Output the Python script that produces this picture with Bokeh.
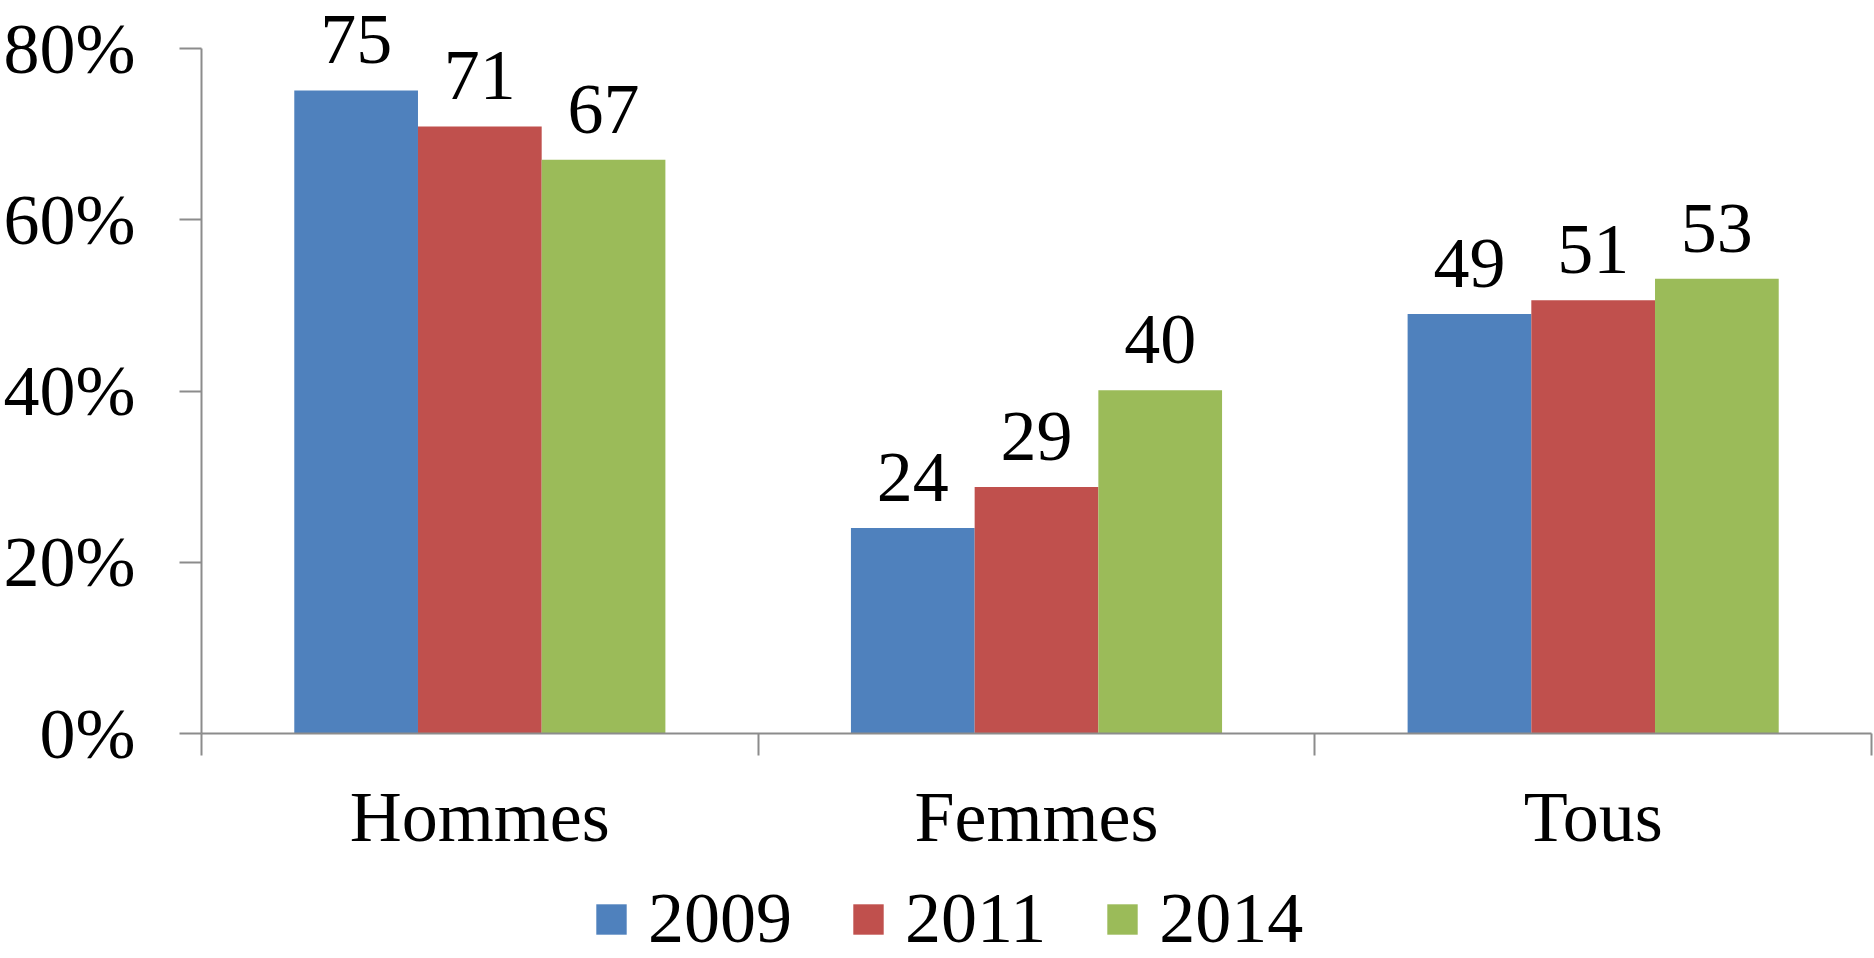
import numpy as np
from bokeh.plotting import figure
from bokeh.layouts import column
from bokeh.models import (Range1d, FixedTicker, PrintfTickFormatter, ColumnDataSource,
                          LabelSet, Legend, LegendItem, LinearAxis)
from bokeh.core.properties import value
from bokeh.embed import file_html
from bokeh.resources import INLINE

# ---- data ----
categories = ["Hommes", "Femmes", "Tous"]
years = ["2009", "2011", "2014"]
v2009 = [75.1, 24.0, 49.0]
v2011 = [70.9, 28.8, 50.6]
v2014 = [67.0, 40.1, 53.1]
y_ticks = [0, 20, 40, 60, 80]
colors = ["#4F81BD", "#C0504D", "#9BBB59"]

FONT = "Liberation Serif"
FS = "72px"
AX = "#8c8c8c"

W, H = 1874, 958
LEG_H = 98
MAIN_H = H - LEG_H
FRAME_BOTTOM = 733      # pixel row of the 0 line
AXIS_TOP_PX = 48        # pixel row of the 80% tick
y_top = y_ticks[-1] * FRAME_BOTTOM / (FRAME_BOTTOM - AXIS_TOP_PX)

p = figure(width=W, height=MAIN_H,
           x_range=Range1d(0, len(categories)), y_range=Range1d(0, y_top),
           output_backend="svg", toolbar_location=None,
           x_axis_location=None, y_axis_location=None,
           min_border_left=200, min_border_right=3,
           min_border_top=0, min_border_bottom=MAIN_H - FRAME_BOTTOM)
p.outline_line_color = None
p.background_fill_color = "white"
p.border_fill_color = "white"
p.grid.visible = False

centers = [i + 0.5 for i in range(len(categories))]
bounds = [float(i) for i in range(len(categories) + 1)]

xaxis = LinearAxis(ticker=FixedTicker(ticks=centers, minor_ticks=bounds))
xaxis.major_label_overrides = {c: name for c, name in zip(centers, categories)}
xaxis.major_tick_out = 22
xaxis.major_tick_in = 0
xaxis.major_tick_line_color = None
xaxis.minor_tick_out = 22
xaxis.minor_tick_in = 0
xaxis.minor_tick_line_color = AX
xaxis.minor_tick_line_width = 2
xaxis.axis_line_color = AX
xaxis.axis_line_width = 2
xaxis.major_label_standoff = 21
xaxis.major_label_text_font = FONT
xaxis.major_label_text_font_size = FS
xaxis.major_label_text_color = "black"
p.add_layout(xaxis, "below")

yaxis = LinearAxis(ticker=FixedTicker(ticks=y_ticks, minor_ticks=[]),
                   formatter=PrintfTickFormatter(format="%d%%"),
                   bounds=(y_ticks[0], y_ticks[-1]))
yaxis.major_tick_out = 22
yaxis.major_tick_in = 0
yaxis.major_tick_line_color = AX
yaxis.major_tick_line_width = 2
yaxis.minor_tick_line_color = None
yaxis.axis_line_color = AX
yaxis.axis_line_width = 2
yaxis.major_label_standoff = 44
yaxis.major_label_text_font = FONT
yaxis.major_label_text_font_size = FS
yaxis.major_label_text_color = "black"
p.add_layout(yaxis, "left")

n = len(years)
bw = 1.0 / (n + 1.5)
for j, (yr, vals, col) in enumerate(zip(years, [v2009, v2011, v2014], colors)):
    xs = np.arange(len(categories)) + 0.5 + (j - (n - 1) / 2) * bw
    src = ColumnDataSource(dict(x=xs, top=vals, label=[f"{v:.0f}" for v in vals]))
    p.vbar(x="x", top="top", bottom=0, width=bw, source=src,
           fill_color=col, line_color=None)
    p.add_layout(LabelSet(x="x", y="top", text="label", source=src,
                          text_align="center", text_baseline="alphabetic",
                          y_offset=27, text_font=value(FONT), text_font_size=value(FS),
                          text_color="black"))

# ---- legend strip below the chart (frame aligned with the chart's frame) ----
q = figure(width=W, height=LEG_H, x_range=Range1d(0, 1), y_range=Range1d(0, 1),
           output_backend="svg", toolbar_location=None,
           x_axis_location=None, y_axis_location=None,
           min_border_left=200, min_border_right=3, min_border_top=0, min_border_bottom=0)
q.outline_line_color = None
q.grid.visible = False
items = []
for yr, col in zip(years, colors):
    # legend-only renderer: its single bar lies outside the visible range
    r = q.vbar(x=[-5], top=[0], width=0.1, fill_color=col, line_color=None)
    items.append(LegendItem(label=value(yr), renderers=[r], index=0))
legend = Legend(items=items, orientation="horizontal", location=(391, -2),
                glyph_width=38, glyph_height=38, label_standoff=18, spacing=57,
                padding=0, margin=0, border_line_color=None, background_fill_alpha=0,
                label_text_font=FONT, label_text_font_size=FS, label_text_color="black")
q.add_layout(legend, "center")

layout = column(p, q, spacing=0)
open("out.html", "w").write(file_html(layout, INLINE))
